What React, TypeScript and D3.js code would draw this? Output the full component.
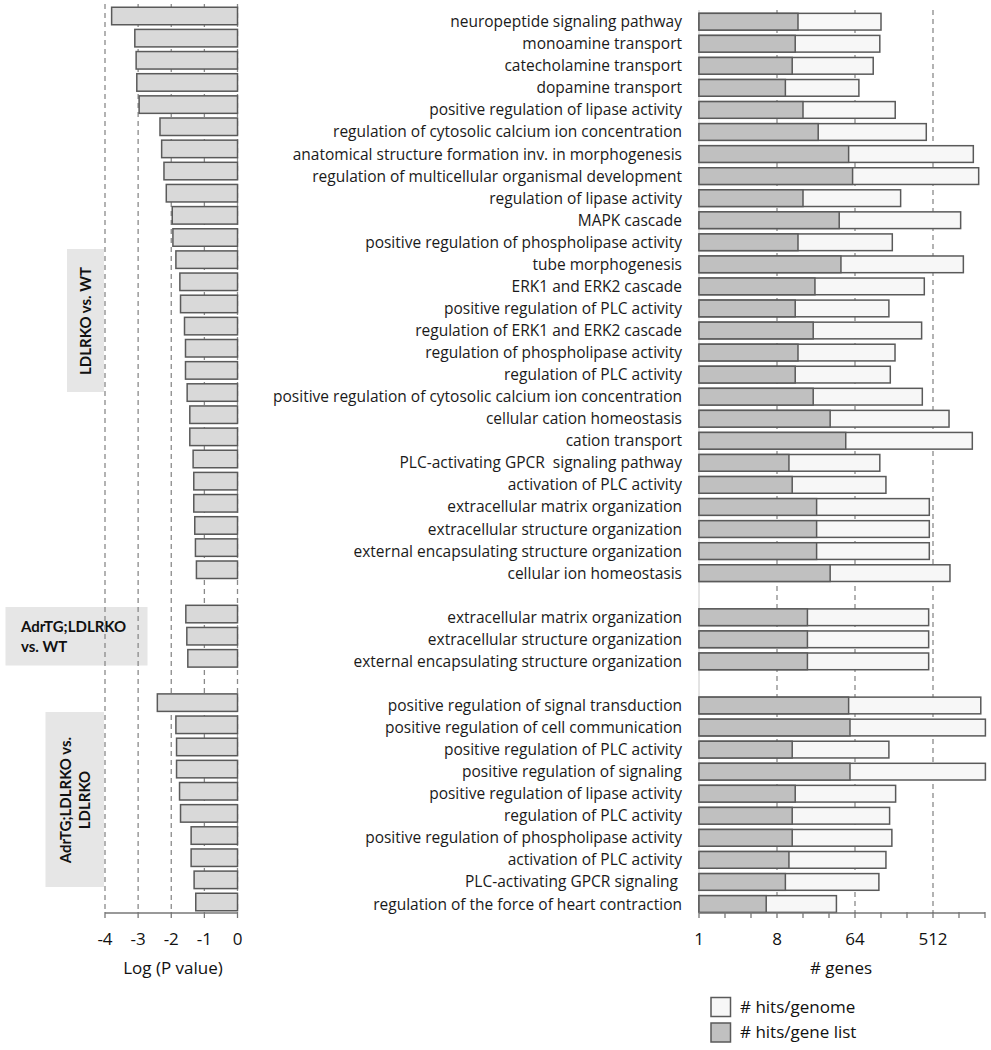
import React from "react";
import * as d3 from "d3";

// ---- data ----
const ldlrkoTerms = [
  "neuropeptide signaling pathway",
  "monoamine transport",
  "catecholamine transport",
  "dopamine transport",
  "positive regulation of lipase activity",
  "regulation of cytosolic calcium ion concentration",
  "anatomical structure formation inv. in morphogenesis",
  "regulation of multicellular organismal development",
  "regulation of lipase activity",
  "MAPK cascade",
  "positive regulation of phospholipase activity",
  "tube morphogenesis",
  "ERK1 and ERK2 cascade",
  "positive regulation of PLC activity",
  "regulation of ERK1 and ERK2 cascade",
  "regulation of phospholipase activity",
  "regulation of PLC activity",
  "positive regulation of cytosolic calcium ion concentration",
  "cellular cation homeostasis",
  "cation transport",
  "PLC-activating GPCR  signaling pathway",
  "activation of PLC activity",
  "extracellular matrix organization",
  "extracellular structure organization",
  "external encapsulating structure organization",
  "cellular ion homeostasis",
];
const ldlrkoLogP = [-3.8, -3.1, -3.06, -3.04, -2.97, -2.34, -2.29, -2.22, -2.15, -1.97, -1.95, -1.86, -1.74, -1.72, -1.6, -1.57, -1.57, -1.52, -1.44, -1.44, -1.34, -1.32, -1.32, -1.29, -1.27, -1.24];
const ldlrkoHitsList = [14, 13, 12, 10, 16, 24, 54, 60, 16, 42, 14, 44, 22, 13, 21, 14, 13, 21, 33, 50, 11, 12, 23, 23, 23, 33];
const ldlrkoHitsGenome = [128, 124, 104, 71, 187, 428, 1500, 1730, 216, 1070, 173, 1150, 406, 158, 378, 186, 164, 385, 785, 1460, 124, 146, 464, 464, 464, 805];

const adrWtTerms = [
  "extracellular matrix organization",
  "extracellular structure organization",
  "external encapsulating structure organization",
];
const adrWtLogP = [-1.56, -1.53, -1.5];
const adrWtHitsList = [18, 18, 18];
const adrWtHitsGenome = [456, 456, 456];

const adrLdlrTerms = [
  "positive regulation of signal transduction",
  "positive regulation of cell communication",
  "positive regulation of PLC activity",
  "positive regulation of signaling",
  "positive regulation of lipase activity",
  "regulation of PLC activity",
  "positive regulation of phospholipase activity",
  "activation of PLC activity",
  "PLC-activating GPCR signaling ",
  "regulation of the force of heart contraction",
];
const adrLdlrLogP = [-2.42, -1.86, -1.84, -1.84, -1.75, -1.72, -1.4, -1.4, -1.31, -1.26];
const adrLdlrHitsList = [54, 56, 12, 56, 13, 12, 12, 11, 10, 6];
const adrLdlrHitsGenome = [1830, 2070, 158, 2070, 189, 161, 171, 146, 121, 39];

const logPTicks = [-4, -3, -2, -1, 0];
const geneTickLabels = [1, 8, 64, 512];
const geneGrid = [8, 64, 512];

type Row = { term: string; logP: number; list: number; genome: number; slot: number };

function buildRows(): Row[] {
  const rows: Row[] = [];
  let slot = 0;
  ldlrkoTerms.forEach((t, i) => rows.push({ term: t, logP: ldlrkoLogP[i], list: ldlrkoHitsList[i], genome: ldlrkoHitsGenome[i], slot: slot++ }));
  slot++;
  adrWtTerms.forEach((t, i) => rows.push({ term: t, logP: adrWtLogP[i], list: adrWtHitsList[i], genome: adrWtHitsGenome[i], slot: slot++ }));
  slot++;
  adrLdlrTerms.forEach((t, i) => rows.push({ term: t, logP: adrLdlrLogP[i], list: adrLdlrHitsList[i], genome: adrLdlrHitsGenome[i], slot: slot++ }));
  return rows;
}

export default function App() {
  const rows = buildRows();
  const nSlots = 41;
  const axisY = 913;

  const xL = d3.scaleLinear().domain([-4, 0]).range([105, 237.5]);
  const yL = d3.scaleLinear().domain([0, nSlots - 1]).range([16, 902]);
  const bhL = 17.5;

  const xR = d3.scaleLog().base(2).domain([1, 2048]).range([699, 985]);
  const yR = d3.scaleLinear().domain([0, nSlots - 1]).range([21.7, 904]);
  const bhR = 16.7;

  const font = "'Open Sans', sans-serif";
  const boldFont = "Lato, sans-serif";
  const stroke = "#5a5a5a";
  const gridColor = "#8a8a8a";
  const allPow2 = d3.range(0, 12).map((k) => Math.pow(2, k));

  return (
    <svg width={991} height={1050} style={{ position: "absolute", left: 0, top: 0, background: "#fff" }} fontFamily={font}>
      {/* group label boxes */}
      <rect x={67} y={249} width={37} height={143} fill="#e6e6e6" />
      <text transform={`translate(91,321) rotate(-90)`} textAnchor="middle" fontWeight="bold" fontSize={15} fill="#111" fontFamily={boldFont}>LDLRKO vs. WT</text>
      <rect x={5.5} y={607} width={142} height={58.5} fill="#e6e6e6" />
      <text x={21} y={632} fontWeight="bold" fontSize={15} fill="#111" fontFamily={boldFont}>AdrTG;LDLRKO</text>
      <text x={21} y={652} fontWeight="bold" fontSize={15} fill="#111" fontFamily={boldFont}>vs. WT</text>
      <rect x={45.5} y={712} width={58.5} height={175} fill="#e6e6e6" />
      <text transform={`translate(71,800) rotate(-90)`} textAnchor="middle" fontWeight="bold" fontSize={15} fill="#111" fontFamily={boldFont}>AdrTG;LDLRKO vs.</text>
      <text transform={`translate(90,800) rotate(-90)`} textAnchor="middle" fontWeight="bold" fontSize={15} fill="#111" fontFamily={boldFont}>LDLRKO</text>

      {/* left gridlines */}
      {logPTicks.map((t) => (
        <line key={"lg" + t} x1={xL(t)} x2={xL(t)} y1={4} y2={axisY} stroke={gridColor} strokeWidth={1.3} strokeDasharray="5,4" />
      ))}
      {/* left bars */}
      {rows.map((r) => (
        <rect key={"lb" + r.slot} x={xL(r.logP)} y={yL(r.slot) - bhL / 2} width={xL(0) - xL(r.logP)} height={bhL} fill="#d9d9d9" stroke={stroke} strokeWidth={1.5} />
      ))}
      {/* left axis */}
      <line x1={xL(-4)} x2={xL(0)} y1={axisY} y2={axisY} stroke="#777" strokeWidth={1.3} />
      {logPTicks.map((t) => (
        <g key={"lt" + t}>
          <line x1={xL(t)} x2={xL(t)} y1={axisY - 1} y2={axisY + 5} stroke="#777" strokeWidth={1.3} />
          <text x={xL(t)} y={945} textAnchor="middle" fontSize={17} fill="#111">{t}</text>
        </g>
      ))}
      <text x={173} y={974} textAnchor="middle" fontSize={17} fill="#111">Log (P value)</text>

      {/* right gridlines */}
      <line x1={xR(1)} x2={xR(1)} y1={10} y2={axisY} stroke="#c8c8c8" strokeWidth={1} />
      {geneGrid.map((g) => (
        <line key={"rg" + g} x1={xR(g)} x2={xR(g)} y1={10} y2={axisY} stroke={gridColor} strokeWidth={1.3} strokeDasharray="5,4" />
      ))}
      {/* right bars */}
      {rows.map((r) => (
        <g key={"rb" + r.slot}>
          <rect x={xR(1)} y={yR(r.slot) - bhR / 2} width={xR(r.genome) - xR(1)} height={bhR} fill="#f7f7f7" stroke={stroke} strokeWidth={1.5} />
          <rect x={xR(1)} y={yR(r.slot) - bhR / 2} width={xR(r.list) - xR(1)} height={bhR} fill="#c0c0c0" stroke={stroke} strokeWidth={1.5} />
        </g>
      ))}
      {/* category labels */}
      {rows.map((r) => (
        <text key={"lab" + r.slot} x={682} y={yR(r.slot) + 5.5} textAnchor="end" fontSize={15.5} fill="#1a1a1a" style={{ whiteSpace: "pre" }}>{r.term}</text>
      ))}
      {/* right axis */}
      <line x1={xR(1)} x2={xR(2048)} y1={axisY} y2={axisY} stroke="#777" strokeWidth={1.3} />
      {allPow2.map((t) => (
        <line key={"rt" + t} x1={xR(t)} x2={xR(t)} y1={axisY - 1} y2={axisY + 5} stroke="#777" strokeWidth={1.3} />
      ))}
      {geneTickLabels.map((t) => (
        <text key={"rtl" + t} x={xR(t)} y={945} textAnchor="middle" fontSize={17} fill="#111">{t}</text>
      ))}
      <text x={841} y={974} textAnchor="middle" fontSize={17} fill="#111"># genes</text>

      {/* legend */}
      <rect x={711} y={997.5} width={19.5} height={19} fill="#f7f7f7" stroke={stroke} strokeWidth={1.5} />
      <text x={740} y={1013} fontSize={17} fill="#111"># hits/genome</text>
      <rect x={711} y={1023} width={19.5} height={19} fill="#c0c0c0" stroke={stroke} strokeWidth={1.5} />
      <text x={740} y={1038} fontSize={17} fill="#111"># hits/gene list</text>
    </svg>
  );
}
